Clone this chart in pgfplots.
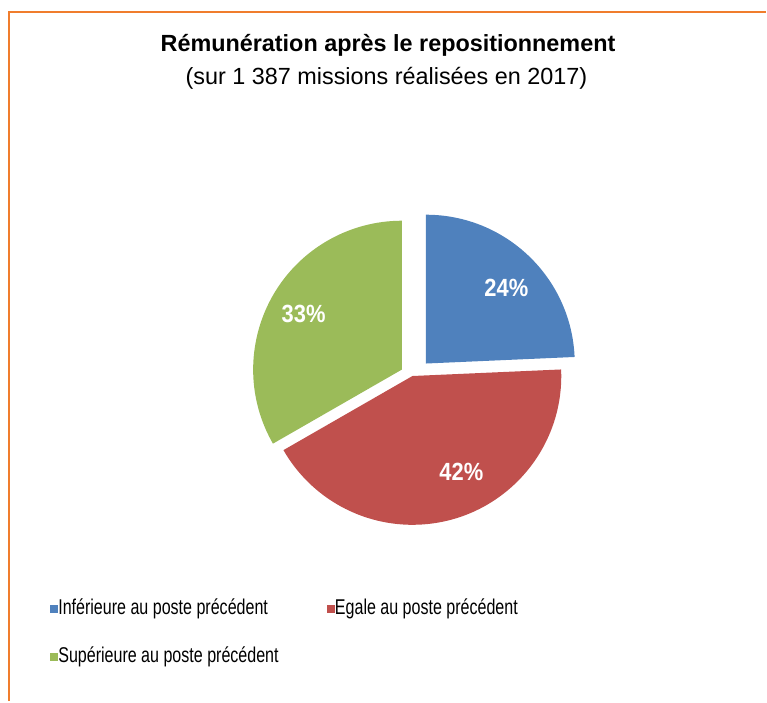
\documentclass[border=0pt]{standalone}
\usepackage{pgfplots}
\pgfplotsset{compat=1.18}
\usepackage{pgfplotstable}
\usepackage{fontspec}
\setmainfont{Liberation Sans}

\definecolor{pieblue}{RGB}{79,129,189}
\definecolor{piered}{RGB}{192,80,77}
\definecolor{piegreen}{RGB}{155,187,89}
\definecolor{frameorange}{RGB}{240,125,45}

% share in %, slice centre (exploded) and label position, in px
\pgfplotstableread{
share cx    cy    lx    ly
24.3  426.5 338   507   414
42.4  413   325.5 462   229
33.3  402.5 332   304   388
}\piedata

\newcommand\slice[2]{%
  \edef\temp{\noexpand\fill[#2] (axis cs:\csname cx#1\endcsname,\csname cy#1\endcsname)
    -- ++(\csname from#1\endcsname:149bp)
    arc[start angle=\csname from#1\endcsname, end angle=\csname to#1\endcsname, radius=149bp]
    -- cycle;}\temp}

\begin{document}
\begin{tikzpicture}
% slice angles, clockwise from 12 o'clock
\xdef\angstart{90}
\foreach \i in {0,1,2}{%
  \pgfplotstablegetelem{\i}{share}\of\piedata
  \pgfmathsetmacro\angend{\angstart-3.6*\pgfplotsretval}%
  \expandafter\xdef\csname from\i\endcsname{\angstart}%
  \expandafter\xdef\csname to\i\endcsname{\angend}%
  \xdef\angstart{\angend}%
  \pgfplotstablegetelem{\i}{cx}\of\piedata
  \expandafter\xdef\csname cx\i\endcsname{\pgfplotsretval}%
  \pgfplotstablegetelem{\i}{cy}\of\piedata
  \expandafter\xdef\csname cy\i\endcsname{\pgfplotsretval}%
}
\begin{axis}[
    width=767bp, height=702bp,
    scale only axis,
    hide axis,
    clip=false,
    xmin=0, xmax=767, ymin=0, ymax=702,
    enlargelimits=false,
    legend columns=2,
    legend image code/.code={\fill[#1] (0bp,-3.5bp) rectangle (7bp,3.5bp);},
    legend style={
        at={(0.0652,0.1481)},
        anchor=north west,
        draw=none, fill=none,
        inner sep=0pt, outer sep=0pt,
        row sep=25bp,
        font=\fontsize{21.5}{25}\selectfont,
        nodes={inner sep=1bp, text height=16bp, text depth=5bp},
        /tikz/every even column/.append style={column sep=47bp},
    },
    legend cell align=left,
]
\path (axis cs:0,0) rectangle (axis cs:767,702);
\draw[frameorange, line width=2bp] (axis cs:9,0) -- (axis cs:9,690) -- (axis cs:767,690);

\node[anchor=base, font=\bfseries\fontsize{23.5}{28}\selectfont]
    at (axis cs:388.5,650) {Rémunération après le repositionnement};
\node[anchor=base, font=\fontsize{23.5}{28}\selectfont]
    at (axis cs:387,617) {(sur 1 387 missions réalisées en 2017)};

\slice{0}{pieblue}
\slice{1}{piered}
\slice{2}{piegreen}

\addplot[forget plot, only marks, mark=*, mark size=0pt,
    mark options={draw=none, fill=none},
    point meta=\thisrow{share},
    nodes near coords={\scalebox{0.88}[1]{\pgfmathprintnumber[fixed,precision=0,assume math mode=true]{\pgfplotspointmeta}\%}},
    nodes near coords align=center,
    every node near coord/.append style={anchor=center, text=white,
        font=\bfseries\fontsize{25}{30}\selectfont},
] table[x=lx, y=ly] {\piedata};

\addlegendimage{pieblue}
\addlegendentry{\scalebox{0.75}[1]{Inférieure au poste précédent}}
\addlegendimage{piered}
\addlegendentry{\scalebox{0.75}[1]{Egale au poste précédent}}
\addlegendimage{piegreen}
\addlegendentry{\scalebox{0.75}[1]{Supérieure au poste précédent}}
\end{axis}
\end{tikzpicture}
\end{document}
